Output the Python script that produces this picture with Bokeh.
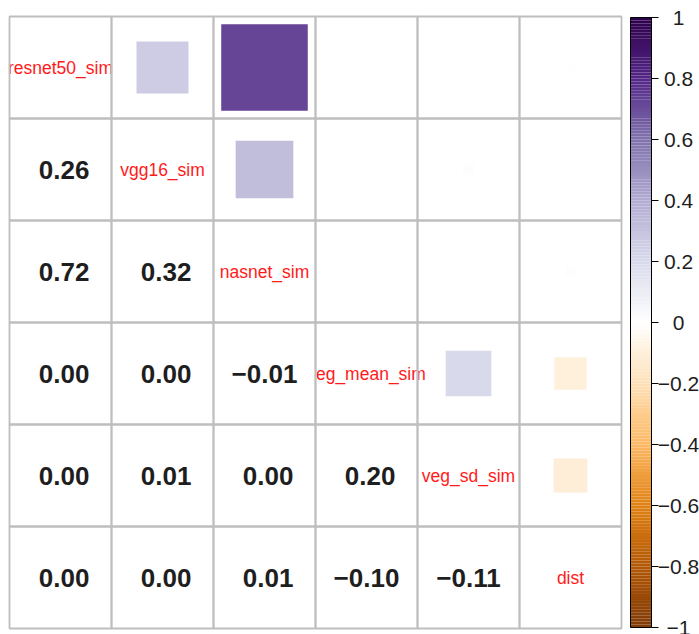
import math
from bokeh.plotting import figure
from bokeh.models import Range1d, ColumnDataSource
from bokeh.core.properties import value
from bokeh.embed import file_html
from bokeh.resources import INLINE

# Variables of the correlation matrix (diagonal order)
variables = ["resnet50_sim", "vgg16_sim", "nasnet_sim", "veg_mean_sim", "veg_sd_sim", "dist"]

# Lower-triangle correlations, one list per row (columns left of the diagonal)
corr_vgg16 = [0.26]
corr_nasnet = [0.72, 0.32]
corr_veg_mean = [0.0, 0.0, -0.006]
corr_veg_sd = [0.0, 0.012, 0.0, 0.20]
corr_dist = [0.0049, 0.0, 0.0095, -0.10, -0.11]
lower_rows = [[], corr_vgg16, corr_nasnet, corr_veg_mean, corr_veg_sd, corr_dist]

# Colour legend ticks
cb_ticks = [-1.0, -0.8, -0.6, -0.4, -0.2, 0.0, 0.2, 0.4, 0.6, 0.8, 1.0]
cb_labels = ["\u22121", "\u22120.8", "\u22120.6", "\u22120.4", "\u22120.2", "0",
             "0.2", "0.4", "0.6", "0.8", "1"]

# Diverging PuOr ramp, -1 -> +1
ramp = ["#7F3B08", "#B35806", "#E08214", "#FDB863", "#FEE0B6", "#FFFFFF",
        "#D8DAEB", "#B2ABD2", "#8073AC", "#542788", "#2D004B"]


def ramp_color(v):
    t = (max(-1.0, min(1.0, v)) + 1.0) / 2.0 * (len(ramp) - 1)
    i = min(int(math.floor(t)), len(ramp) - 2)
    f = t - i
    a = ramp[i]
    b = ramp[i + 1]
    rgb = []
    for k in (1, 3, 5):
        ca = int(a[k:k + 2], 16)
        cb = int(b[k:k + 2], 16)
        rgb.append(round(ca + (cb - ca) * f))
    return "#%02x%02x%02x" % tuple(rgb)


n = len(variables)
W, H = 699, 634
CELL = 102.0
X0, Y0 = 9.0, 16.0
FONT = value("Liberation Sans")

p = figure(width=W, height=H,
           x_range=Range1d(-X0 / CELL, (W - X0) / CELL),
           y_range=Range1d((H - Y0) / CELL, -Y0 / CELL),
           x_axis_type=None, y_axis_type=None,
           toolbar_location=None, output_backend="svg", min_border=0)
p.outline_line_color = None
p.background_fill_color = "white"
p.border_fill_color = "white"

# pixel-space x range and value-space y range for the colour legend
CB_TOP, CB_BOT = 17.0, 627.0
per_unit = (CB_BOT - CB_TOP) / 2.0
p.extra_x_ranges = {"px": Range1d(0, W)}
p.extra_y_ranges = {"cb": Range1d(-1.0 - (H - CB_BOT) / per_unit, 1.0 + CB_TOP / per_unit)}

# full symmetric matrix
mat = [[1.0] * n for _ in range(n)]
for r in range(n):
    for c, v in enumerate(lower_rows[r]):
        mat[r][c] = v
        mat[c][r] = v

all_x, all_y = [], []
up = dict(x=[], y=[], s=[], color=[])
low = dict(x=[], y=[], txt=[], dx=[])
low_x, low_y = [], []
for r in range(n):
    for c in range(n):
        all_x.append(c + 0.5)
        all_y.append(r + 0.5)
        v = mat[r][c]
        if c > r:
            up["x"].append(c + 0.5)
            up["y"].append(r + 0.5)
            up["s"].append(math.sqrt(abs(v)))
            up["color"].append(ramp_color(v))
        elif c < r:
            low_x.append(c + 0.5)
            low_y.append(r + 0.5)
            low["x"].append(c + 0.5)
            low["y"].append(r + 0.5)
            low["txt"].append(f"{v:.2f}".replace("-", "\u2212"))
            low["dx"].append(0 if v < 0 else 3.6)

# cell backgrounds
p.rect(x=all_x, y=all_y, width=1, height=1, fill_color="white", line_color=None)

# upper triangle: squares with area proportional to |r|
p.rect(x="x", y="y", width="s", height="s", fill_color="color", line_color=None,
       source=ColumnDataSource(up))

# variable names on the diagonal
p.text(x=[i + 0.5 for i in range(n)], y=[i + 0.5 for i in range(n)], text=variables,
       text_font=FONT, text_font_size=value("17.5px"), text_color="#FF1A1A",
       text_align="center", text_baseline="middle")

# lower cells drawn over any overflowing names
p.rect(x=low_x, y=low_y, width=1, height=1, fill_color="white", line_color=None)

# cell borders
p.rect(x=all_x, y=all_y, width=1, height=1, fill_color=None,
       line_color="#BEBEBE", line_width=1.8)

# lower triangle: coefficients
p.text(x="x", y="y", text="txt", x_offset="dx", source=ColumnDataSource(low),
       text_font=FONT, text_font_size=value("26px"), text_font_style="bold",
       text_color="#1E1E1E", text_align="center", text_baseline="middle")

# colour legend
CB_L, CB_R = 630.0, 651.0
steps = 200
edges = [-1.0 + 2.0 * k / steps for k in range(steps + 1)]
p.quad(left=CB_L, right=CB_R, bottom=edges[:-1], top=edges[1:],
       fill_color=[ramp_color((edges[k] + edges[k + 1]) / 2) for k in range(steps)],
       line_color=None, x_range_name="px", y_range_name="cb")
p.quad(left=[CB_L], right=[CB_R], bottom=[-1.0], top=[1.0], fill_color=None,
       line_color="black", line_width=1, x_range_name="px", y_range_name="cb")
p.segment(x0=CB_R, x1=CB_R + 7, y0=cb_ticks, y1=cb_ticks, line_color="black",
          line_width=1, x_range_name="px", y_range_name="cb")
p.text(x=678, y=cb_ticks, text=cb_labels, text_font=FONT, text_font_size=value("21px"),
       text_color="#1E1E1E", text_align="center", text_baseline="middle",
       x_range_name="px", y_range_name="cb")

open("out.html", "w").write(file_html(p, INLINE))
